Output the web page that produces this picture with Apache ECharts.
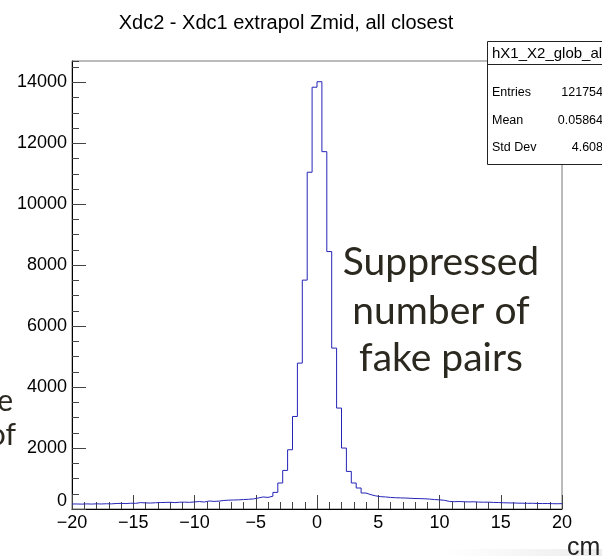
<!DOCTYPE html>
<html><head><meta charset="utf-8">
<script src="https://cdn.jsdelivr.net/npm/echarts@6/dist/echarts.min.js"></script>
<style>html,body{margin:0;padding:0;background:#fff}#c{width:602px;height:556px}</style>
</head><body><div id="c"></div>
<script>
// Histogram: 100 bins of width 0.4 from -20 to 20
const binLow = -20;
const binWidth = 0.4;
const counts = [
  165,160,168,162,170,165,172,168,180,185,
  178,190,186,210,200,195,205,212,215,220,
  210,222,225,218,232,245,228,262,250,258,
  280,290,295,300,310,318,330,360,395,380,
  420,545,853,1266,1944,3036,4787,7510,11050,13840,
  14020,11725,8447,5280,3312,2000,1233,853,689,525,
  470,430,405,395,380,370,365,360,352,345,
  340,335,325,310,300,285,250,240,245,238,
  232,236,228,222,225,215,212,205,200,198,
  192,190,186,188,182,178,180,175,172,176
];
const xTickLabels = [-20, -15, -10, -5, 0, 5, 10, 15, 20];
const yTickLabels = [0, 2000, 4000, 6000, 8000, 10000, 12000, 14000];
const titleText = 'Xdc2 - Xdc1 extrapol Zmid, all closest';
const statsName = 'hX1_X2_glob_all';
const statsLabels = ['Entries', 'Mean', 'Std Dev'];
const statsValues = ['121754', '0.05864', '4.608'];
const noteLines = ['Suppressed', 'number of', 'fake pairs'];
const xUnit = 'cm';

const stepData = counts.map((c, i) => [binLow + i * binWidth, c]);
stepData.push([binLow + counts.length * binWidth, counts[counts.length - 1]]);

const FONT = '"Liberation Sans", Arial, sans-serif';
const minus = v => String(v).replace('-', '\u2212');

const chart = echarts.init(document.getElementById('c'), null, {renderer: 'canvas'});
const statsRowsY = [93, 121, 148];
const noteY = [262, 311, 358];
const graphics = [
  {type: 'text', x: 286, y: 23, z: 100,
   style: {text: titleText, font: '20px ' + FONT, fill: '#000', align: 'center', verticalAlign: 'middle'}},
  {type: 'rect', z: 100, shape: {x: 487.5, y: 41.5, width: 140, height: 123},
   style: {fill: '#fff', stroke: '#222', lineWidth: 1}},
  {type: 'line', z: 101, shape: {x1: 487.5, y1: 64.5, x2: 610, y2: 64.5},
   style: {stroke: '#222', lineWidth: 1}},
  {type: 'text', z: 101, x: 492, y: 54,
   style: {text: statsName, font: '15px ' + FONT, fill: '#000', align: 'left', verticalAlign: 'middle'}}
];
statsLabels.forEach((l, i) => {
  graphics.push({type: 'text', z: 101, x: 492, y: statsRowsY[i],
    style: {text: l, font: '12.5px ' + FONT, fill: '#000', align: 'left', verticalAlign: 'middle'}});
  graphics.push({type: 'text', z: 101, x: 603, y: statsRowsY[i],
    style: {text: statsValues[i], font: '12.5px ' + FONT, fill: '#000', align: 'right', verticalAlign: 'middle'}});
});
noteLines.forEach((t, i) => {
  graphics.push({type: 'text', z: 100, x: 441, y: noteY[i],
    style: {text: t, font: '39px Lato, "Open Sans", sans-serif', fill: '#2b281f', align: 'center', verticalAlign: 'middle'}});
});
graphics.push({type: 'text', z: 100, x: 13, y: 401,
  style: {text: 'e', font: '30px Lato, sans-serif', fill: '#2b281f', align: 'right', verticalAlign: 'middle'}});
graphics.push({type: 'text', z: 100, x: 16, y: 435,
  style: {text: 'of', font: '30px Lato, sans-serif', fill: '#2b281f', align: 'right', verticalAlign: 'middle'}});
graphics.push({type: 'rect', z: 1, shape: {x: 447, y: 549, width: 155, height: 7},
  style: {fill: new echarts.graphic.LinearGradient(0, 0, 1, 0, [{offset: 0, color: '#ffffff'}, {offset: 1, color: '#ececec'}])}});
graphics.push({type: 'text', z: 100, x: 567, y: 548,
  style: {text: xUnit, font: '25px ' + FONT, fill: '#222', align: 'left', verticalAlign: 'middle'}});

chart.setOption({
  animation: false,
  backgroundColor: '#fff',
  grid: {left: 72, right: 40, top: 61, bottom: 47, show: true, borderColor: '#777', borderWidth: 1, backgroundColor: 'transparent'},
  xAxis: {
    type: 'value', min: xTickLabels[0], max: xTickLabels[xTickLabels.length - 1], interval: 5,
    axisLine: {show: true, onZero: false, lineStyle: {color: '#000', width: 1}},
    axisTick: {show: true, inside: true, length: 14, lineStyle: {color: '#444'}},
    minorTick: {show: true, splitNumber: 5, length: 7, lineStyle: {color: '#444'}},
    splitLine: {show: false}, minorSplitLine: {show: false},
    axisLabel: {show: true, margin: 5, fontFamily: FONT, fontSize: 18, color: '#000',
      showMinLabel: true, showMaxLabel: true, formatter: v => minus(v)}
  },
  yAxis: [{
    type: 'value', min: yTickLabels[0], max: 14700, interval: 2000, position: 'left',
    axisLine: {show: true, onZero: false, lineStyle: {color: '#000', width: 1}},
    axisTick: {show: true, inside: true, length: 14, lineStyle: {color: '#444'}},
    splitLine: {show: false},
    axisLabel: {show: true, margin: 5, fontFamily: FONT, fontSize: 18, color: '#000', showMaxLabel: false,
      formatter: v => v === 0 ? '{z|0}' : String(v),
      rich: {z: {fontFamily: FONT, fontSize: 18, color: '#000', padding: [0, 0, 15, 0]}}}
  }, {
    type: 'value', min: 0, max: 14700, interval: 500, position: 'left',
    axisLine: {show: false, onZero: false},
    axisTick: {show: true, inside: true, length: 7, lineStyle: {color: '#444'}},
    splitLine: {show: false},
    axisLabel: {show: false}
  }],
  series: [{
    type: 'line', step: 'end', data: stepData, yAxisIndex: 0,
    showSymbol: false, symbol: 'none', clip: true,
    lineStyle: {color: '#2424b8', width: 1}
  }],
  graphic: graphics
});
</script>
</body></html>
